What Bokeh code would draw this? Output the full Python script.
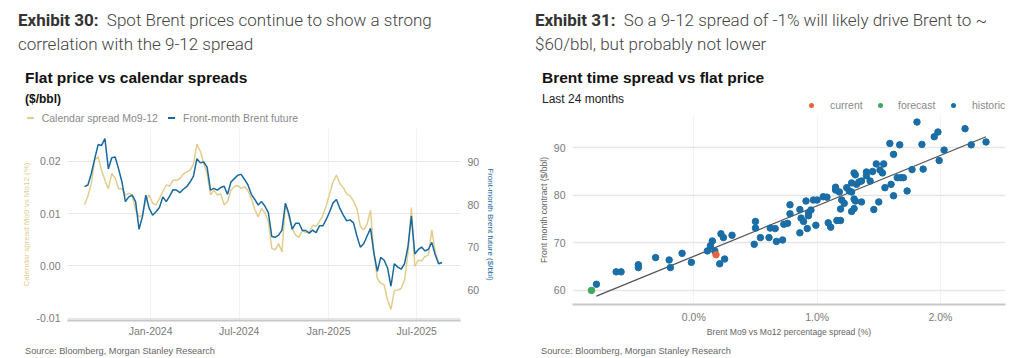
import pandas as pd
from bokeh.plotting import figure
from bokeh.models import (Range1d, LinearAxis, FixedTicker, DatetimeTickFormatter,
                          NumeralTickFormatter, PrintfTickFormatter, Div)
from bokeh.layouts import row, column
from bokeh.embed import file_html
from bokeh.resources import INLINE

# ---------------- Exhibit 30 data (weekly readings) ----------------
first_week = "2023-08-18"
spread_mo9_12 = [
    0.0117, 0.0134, 0.0158, 0.0203, 0.0209, 0.0183, 0.0164, 0.0148, 0.0177, 0.0168,
    0.0148, 0.0148, 0.0136, 0.0139, 0.0136, 0.0107, 0.0094, 0.0097, 0.0126, 0.0136,
    0.0120, 0.0117, 0.0129, 0.0142, 0.0155, 0.0153, 0.0164, 0.0164, 0.0167, 0.0176,
    0.0180, 0.0183, 0.0195, 0.0233, 0.0220, 0.0196, 0.0177, 0.0136, 0.0145, 0.0136,
    0.0138, 0.0117, 0.0123, 0.0145, 0.0152, 0.0154, 0.0148, 0.0152, 0.0144, 0.0129,
    0.0108, 0.0094, 0.0110, 0.0101, 0.0085, 0.0034, 0.0031, 0.0043, 0.0027, 0.0120,
    0.0094, 0.0072, 0.0059, 0.0055, 0.0068, 0.0064, 0.0064, 0.0078, 0.0076, 0.0085,
    0.0097, 0.0115, 0.0139, 0.0161, 0.0174, 0.0158, 0.0150, 0.0138, 0.0134, 0.0124,
    0.0110, 0.0076, 0.0069, 0.0080, 0.0107, 0.0024, -0.0024, -0.0033, -0.0036, -0.0065,
    -0.0083, -0.0047, -0.0046, -0.0043, -0.0027, 0.0024, 0.0112, -0.0001, 0.0011, 0.0010,
    0.0018, 0.0021, 0.0069, 0.0027, 0.0006, 0.0005]
brent_front = [
    84.2, 84.6, 87.3, 90.8, 94.1, 93.9, 95.5, 88.4, 91.0, 91.2,
    88.4, 85.3, 80.7, 81.8, 82.2, 80.7, 74.2, 77.1, 82.2, 79.1,
    77.5, 78.3, 79.3, 81.8, 80.7, 82.0, 83.5, 83.4, 82.8, 83.6,
    84.2, 85.3, 86.7, 90.8, 89.8, 90.0, 88.8, 83.4, 83.8, 83.4,
    84.0, 84.3, 82.4, 85.3, 86.1, 86.9, 87.1, 85.9, 84.6, 82.4,
    81.2, 79.9, 80.7, 79.6, 78.1, 72.5, 72.3, 72.8, 74.0, 80.3,
    77.9, 74.2, 75.6, 75.6, 73.9, 73.9, 73.3, 74.0, 73.4, 75.0,
    75.0, 76.5, 78.3, 80.4, 81.2, 79.1, 77.5, 76.2, 76.4, 75.7,
    72.6, 70.0, 70.8, 72.6, 74.4, 68.6, 64.3, 67.6, 66.9, 65.1,
    60.8, 66.1, 65.3, 64.8, 66.1, 70.1, 77.3, 68.4, 69.4, 70.0,
    69.1, 69.5, 71.1, 68.2, 66.1, 66.4]
x_tick_dates = ["2024-01-01", "2024-07-01", "2025-01-01", "2025-07-01"]
x_tick_labels = ["Jan-2024", "Jul-2024", "Jan-2025", "Jul-2025"]
spread_ticks = [-0.01, 0.0, 0.01, 0.02]
brent_ticks = [60, 70, 80, 90]
series_names_30 = ["Calendar spread Mo9-12", "Front-month Brent future"]

# ---------------- Exhibit 31 data ----------------
hist_spread = [
    -0.79, -0.63, -0.59, -0.45, -0.45, -0.31, -0.20, -0.19, -0.095, -0.02,
    0.11, 0.135, 0.15, 0.17, 0.21, 0.22, 0.24, 0.25, 0.31, 0.49,
    0.50, 0.50, 0.54, 0.61, 0.62, 0.66, 0.67, 0.72, 0.73, 0.76,
    0.78, 0.78, 0.86, 0.86, 0.87, 0.89, 0.91, 0.92, 0.93, 0.93,
    0.95, 0.97, 1.00, 0.99, 1.05, 1.08, 1.09, 1.11, 1.15, 1.15,
    1.16, 1.19, 1.18, 1.19, 1.20, 1.22, 1.24, 1.26, 1.28, 1.28,
    1.28, 1.30, 1.30, 1.31, 1.30, 1.31, 1.32, 1.34, 1.36, 1.36,
    1.40, 1.40, 1.43, 1.45, 1.46, 1.48, 1.50, 1.51, 1.53, 1.54,
    1.55, 1.59, 1.60, 1.62, 1.62, 1.65, 1.68, 1.70, 1.67, 1.73,
    1.77, 1.81, 1.85, 1.86, 1.95, 1.98, 1.99, 2.03, 2.20, 2.25,
    2.37]
hist_price = [
    61.3, 63.9, 63.9, 65.4, 64.8, 66.9, 66.4, 64.8, 67.8, 65.9,
    68.3, 69.4, 70.4, 68.3, 65.6, 71.9, 71.1, 66.6, 71.6, 69.7,
    74.5, 73.1, 71.1, 71.1, 73.1, 73.0, 70.3, 70.6, 73.9, 74.1,
    78.0, 76.1, 72.1, 77.0, 75.2, 74.5, 78.8, 73.0, 76.3, 75.7,
    76.9, 79.0, 79.0, 73.7, 79.7, 79.6, 74.2, 73.3, 81.7, 81.1,
    74.7, 74.7, 80.7, 77.1, 79.0, 78.3, 81.6, 80.9, 82.6, 80.7,
    76.6, 77.2, 79.2, 78.8, 84.7, 84.3, 82.3, 82.8, 83.0, 78.6,
    84.9, 84.1, 83.0, 85.0, 77.0, 86.6, 78.6, 85.3, 84.7, 86.6,
    81.6, 90.9, 82.3, 88.6, 79.9, 83.7, 83.7, 83.7, 90.6, 80.9,
    85.4, 95.4, 90.7, 85.5, 92.3, 93.3, 87.3, 89.5, 94.0, 90.6,
    91.2]
current_spread = [0.18]
current_price = [67.5]
forecast_spread = [-0.83]
forecast_price = [60.0]
fit_spread = [-0.79, 2.37]
fit_price = [58.8, 92.3]
pct_ticks = [0.0, 1.0, 2.0]
price_ticks = [60, 70, 80, 90]
series_names_31 = ["current", "forecast", "historic"]

# ---------------- styles ----------------
GOLD = "#e3cd8e"
BLUE = "#17699e"
DOT_BLUE = "#1a6ea5"
RED = "#e8643c"
GREEN = "#3daa5b"
TICK = "#7a7a7a"
SANS = "Liberation Sans"
CSS_SANS = "'Liberation Sans',Arial,sans-serif"

dates = pd.date_range(first_week, periods=len(brent_front), freq="7D")
tick_ms = [pd.Timestamp(d).timestamp() * 1000 for d in x_tick_dates]


def abs_text(left, top, text, size, lh, color, weight=400, family=CSS_SANS):
    return (f'<div style="position:absolute;left:{left}px;top:{top}px;font-family:{family};'
            f'font-size:{size}px;line-height:{lh}px;color:{color};font-weight:{weight};'
            f'white-space:nowrap">{text}</div>')


def abs_box(left, top, w, h, color, radius=0):
    return (f'<div style="position:absolute;left:{left}px;top:{top}px;width:{w}px;height:{h}px;'
            f'background:{color};border-radius:{radius}px"></div>')


def exhibit(tag, line1, line2, left):
    return abs_text(left, 8, f'<span style="font-weight:700;color:#333">{tag}</span>&nbsp;&nbsp;'
                    f'{line1}<br>{line2}', 17, 24, "#444", 300, "Roboto,sans-serif")


# ---- left header (exhibit text, chart title, unit, legend) ----
left_html = (
    exhibit("Exhibit 30:", "Spot Brent prices continue to show a strong",
            "correlation with the 9-12 spread", 18)
    + abs_text(25, 67.5, "Flat price vs calendar spreads", 15.5, 20, "#111", 700)
    + abs_text(25, 92.3, "($/bbl)", 12, 14, "#111", 700)
    + abs_box(27, 117, 7, 2, GOLD)
    + abs_text(41.7, 112, series_names_30[0], 10.5, 12, "#8a8a8a")
    + abs_box(168, 117, 7, 2, BLUE)
    + abs_text(183, 112, series_names_30[1], 10.5, 12, "#8a8a8a")
)
left_header = Div(text=f'<div style="position:relative;width:512px;height:128px">{left_html}</div>',
                  width=512, height=128, margin=(0, 0, 0, 0))

# ---- right header (exhibit text, chart title, subtitle, legend) ----
right_html = (
    exhibit("Exhibit 31:", "So a 9-12 spread of -1% will likely drive Brent to ~",
            "$60/bbl, but probably not lower", 23)
    + abs_text(30, 67.5, "Brent time spread vs flat price", 15.5, 20, "#111", 700)
    + abs_text(30, 91.5, "Last 24 months", 12, 14, "#222")
    + abs_box(296.5, 102.8, 5, 5, RED, 3)
    + abs_text(318, 99.3, series_names_31[0], 10.5, 12, "#8a8a8a")
    + abs_box(365.5, 102.8, 5, 5, GREEN, 3)
    + abs_text(386, 99.3, series_names_31[1], 10.5, 12, "#8a8a8a")
    + abs_box(438.5, 102.8, 5, 5, DOT_BLUE, 3)
    + abs_text(460, 99.3, series_names_31[2], 10.5, 12, "#8a8a8a")
)
right_header = Div(text=f'<div style="position:relative;width:512px;height:115px">{right_html}</div>',
                   width=512, height=115, margin=(0, 0, 0, 0))


def footer(pad):
    html = (f'<div style="position:relative;top:3px;font-family:{CSS_SANS};'
            f'font-size:9.2px;line-height:11px;color:#666;padding-left:{pad}px;white-space:nowrap">'
            f'Source: Bloomberg, Morgan Stanley Research</div>')
    return Div(text=html, width=512, height=17, margin=(0, 0, 0, 0))


# ---------------- Left chart ----------------
p1 = figure(width=512, height=211, x_axis_type="datetime",
            x_range=Range1d(pd.Timestamp("2023-07-14"), pd.Timestamp("2025-09-29")),
            y_range=Range1d(-0.01043, 0.02631),
            output_backend="svg", toolbar_location=None,
            min_border_left=67, min_border_right=52, min_border_top=0, min_border_bottom=18,
            outline_line_color=None, margin=(0, 0, 0, 0))
p1.extra_y_ranges = {"brent": Range1d(52.75, 97.88)}

r_gold = p1.line(dates, spread_mo9_12, line_color=GOLD, line_width=1.5)
r_blue = p1.line(dates, brent_front, line_color=BLUE, line_width=1.5, y_range_name="brent")

ax_l = p1.yaxis[0]
ax_l.ticker = FixedTicker(ticks=spread_ticks)
ax_l.formatter = NumeralTickFormatter(format="0.00")
ax_l.axis_label = "Calendar spread Mo9 vs Mo12 (%)"
ax_l.axis_label_text_color = GOLD
ax_l.axis_label_standoff = 3

ax_r = LinearAxis(y_range_name="brent", ticker=FixedTicker(ticks=brent_ticks),
                  axis_label="Front-month Brent future ($/bbl)")
ax_r.axis_label_text_color = BLUE
ax_r.axis_label_standoff = 4
p1.add_layout(ax_r, "right")

for ax in (ax_l, ax_r):
    ax.axis_line_color = None
    ax.major_label_standoff = 7
    ax.axis_label_text_font_size = "8px"
    ax.axis_label_text_font_style = "normal"
    ax.axis_label_text_font = SANS

xa = p1.xaxis[0]
xa.ticker = FixedTicker(ticks=tick_ms)
xa.formatter = DatetimeTickFormatter(days="%b-%Y", months="%b-%Y", years="%b-%Y")
xa.major_label_overrides = dict(zip(tick_ms, x_tick_labels))
xa.major_label_standoff = 4

p1.ygrid.grid_line_color = "#e6e6e6"
p1.xgrid.grid_line_color = "#f3f3f3"

# ---------------- Right chart ----------------
p2 = figure(width=512, height=224,
            x_range=Range1d(-0.984, 2.528), y_range=Range1d(57.04, 96.77),
            output_backend="svg", toolbar_location=None,
            min_border_left=60, min_border_right=19, min_border_top=0, min_border_bottom=32,
            outline_line_color=None, margin=(0, 0, 0, 0))
p2.line(fit_spread, fit_price, line_color="#555555", line_width=1.3)
p2.scatter(hist_spread, hist_price, size=6.5, fill_color=DOT_BLUE, line_color=DOT_BLUE)
p2.scatter(current_spread, current_price, size=6.5, fill_color=RED, line_color=RED)
p2.scatter(forecast_spread, forecast_price, size=6.5, fill_color=GREEN, line_color=GREEN)

p2.xaxis.ticker = FixedTicker(ticks=pct_ticks)
p2.xaxis.formatter = PrintfTickFormatter(format="%.1f%%")
p2.xaxis.axis_label = "Brent Mo9 vs Mo12 percentage spread (%)"
p2.xaxis.major_label_standoff = 6
p2.xaxis.axis_label_standoff = 1
p2.yaxis.ticker = FixedTicker(ticks=price_ticks)
p2.yaxis.axis_label = "Front month contract ($/bbl)"
p2.yaxis.axis_line_color = None
p2.yaxis.major_label_standoff = 7
p2.yaxis.axis_label_standoff = 2
for ax in (p2.xaxis[0], p2.yaxis[0]):
    ax.axis_label_text_font_size = "8.6px"
    ax.axis_label_text_font_style = "normal"
    ax.axis_label_text_font = SANS
    ax.axis_label_text_color = "#666"
p2.ygrid.grid_line_color = "#e6e6e6"
p2.ygrid.grid_line_width = 1.3
p2.xgrid.grid_line_color = "#f3f3f3"

for p in (p1, p2):
    for ax in p.axis:
        ax.major_tick_line_color = None
        ax.minor_tick_line_color = None
        ax.major_tick_out = 0
        ax.major_tick_in = 0
        ax.minor_tick_out = 0
        ax.minor_tick_in = 0
        ax.major_label_text_font = SANS
        ax.major_label_text_font_size = "10.5px"
        ax.major_label_text_color = TICK
    p.xaxis.axis_line_color = "#c8c8c8"
    p.xaxis.axis_line_width = 2

left = column(left_header, p1, footer(25), spacing=0, margin=(0, 0, 0, 0))
right = column(right_header, p2, footer(29), spacing=0, margin=(0, 0, 0, 0))
layout = row(left, right, spacing=0, margin=(0, 0, 0, 0))

open("out.html", "w").write(file_html(layout, INLINE))
